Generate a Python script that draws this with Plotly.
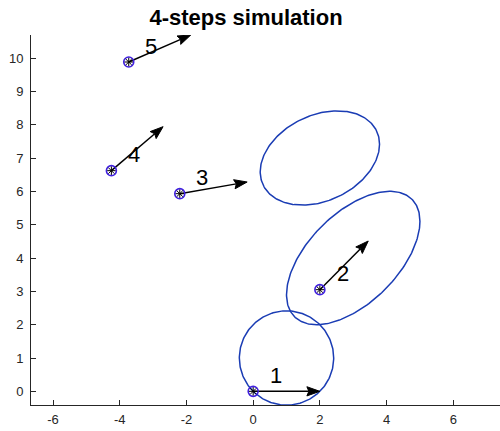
import numpy as np
import plotly.graph_objects as go

# ---- data ----
step_labels = ["1", "2", "3", "4", "5"]
pos_x = [0.0, 2.0, -2.2, -4.25, -3.73]
pos_y = [0.0, 3.05, 5.93, 6.62, 9.88]
head_u = [2.0, 1.45, 2.02, 1.55, 1.86]
head_v = [0.0, 1.46, 0.35, 1.32, 0.81]

ell_cx = [1.0, 3.0, 2.0]
ell_cy = [1.0, 4.0, 7.0]
ell_sxx = [2.0, 4.0, 3.2]
ell_syy = [2.0, 4.0, 2.0]
ell_sxy = [0.0, 2.2, 0.74]

x_tick_vals = [-6, -4, -2, 0, 2, 4, 6]
x_tick_text = ["-6", "-4", "-2", "0", "2", "4", "6"]
y_tick_vals = [0, 1, 2, 3, 4, 5, 6, 7, 8, 9, 10]
y_tick_text = ["0", "1", "2", "3", "4", "5", "6", "7", "8", "9", "10"]

title_text = "4-steps simulation"

# ---- styles ----
ELL_COLOR = "#1a3cb4"
AX_COLOR = "#262626"
FONT = "Liberation Sans, Arial, sans-serif"
PX_PER_UNIT = 33.33

fig = go.Figure()

# covariance ellipses
t = np.linspace(0, 2 * np.pi, 241)
for cx, cy, sxx, syy, sxy in zip(ell_cx, ell_cy, ell_sxx, ell_syy, ell_sxy):
    L = np.linalg.cholesky(np.array([[sxx, sxy], [sxy, syy]]))
    pts = L @ np.vstack([np.cos(t), np.sin(t)])
    fig.add_trace(go.Scatter(x=cx + pts[0], y=cy + pts[1], mode="lines",
                             line=dict(color=ELL_COLOR, width=1.5),
                             hoverinfo="skip", showlegend=False))

# arrows (quiver)
head_len = 13 / PX_PER_UNIT
head_half = 4.6 / PX_PER_UNIT
notch = 2.0 / PX_PER_UNIT
sx, sy, hx, hy = [], [], [], []
for x0, y0, u, v in zip(pos_x, pos_y, head_u, head_v):
    n = np.hypot(u, v)
    ux, uy = u / n, v / n
    px_, py_ = -uy, ux
    tipx, tipy = x0 + u, y0 + v
    bx, by = tipx - head_len * ux, tipy - head_len * uy
    sx += [x0, bx + notch * ux, None]
    sy += [y0, by + notch * uy, None]
    hx += [tipx, bx + head_half * px_, bx + notch * ux, bx - head_half * px_, tipx, None]
    hy += [tipy, by + head_half * py_, by + notch * uy, by - head_half * py_, tipy, None]

fig.add_trace(go.Scatter(x=sx, y=sy, mode="lines", line=dict(color="black", width=1.5),
                         hoverinfo="skip", showlegend=False))
fig.add_trace(go.Scatter(x=hx, y=hy, mode="lines", fill="toself", fillcolor="black",
                         line=dict(color="black", width=1), hoverinfo="skip", showlegend=False))

# position markers
fig.add_trace(go.Scatter(x=pos_x, y=pos_y, mode="markers",
                         marker=dict(symbol="circle-open", size=10, color="#4020e0",
                                     line=dict(width=1.6, color="#4020e0")),
                         showlegend=False))
fig.add_trace(go.Scatter(x=pos_x, y=pos_y, mode="markers",
                         marker=dict(symbol="asterisk-open", size=7, color="black",
                                     line=dict(width=1, color="black")),
                         showlegend=False))

# step labels
for lab, x0, y0 in zip(step_labels, pos_x, pos_y):
    fig.add_annotation(x=x0 + 0.68, y=y0 + 0.48, text=lab, showarrow=False,
                       xanchor="center", yanchor="middle",
                       font=dict(family=FONT, size=22, color="black"))

axis_common = dict(showgrid=False, zeroline=False, showline=True, linecolor=AX_COLOR,
                   linewidth=1, ticks="inside", ticklen=5, tickcolor=AX_COLOR,
                   tickfont=dict(family=FONT, size=13, color=AX_COLOR), mirror=False,
                   automargin=False)

fig.update_layout(
    width=500, height=431,
    margin=dict(l=31, r=0, t=35, b=26, autoexpand=False),
    paper_bgcolor="white", plot_bgcolor="white",
    title=dict(text="<b>" + title_text + "</b>", x=246 / 500, xref="container", xanchor="center",
               y=1 - 17 / 431, yref="container", yanchor="middle", automargin=False,
               font=dict(family=FONT, size=22, color="black")),
    xaxis=dict(range=[-6.66, 7.4], tickvals=x_tick_vals, ticktext=x_tick_text,
               ticklabelstandoff=2, **axis_common),
    yaxis=dict(range=[-0.41, 10.69], tickvals=y_tick_vals, ticktext=y_tick_text,
               ticklabelstandoff=4, **axis_common),
)

fig.write_html("out.html", config={"displayModeBar": False},
               post_script="document.body.style.margin='0';document.body.style.overflow='hidden';")
